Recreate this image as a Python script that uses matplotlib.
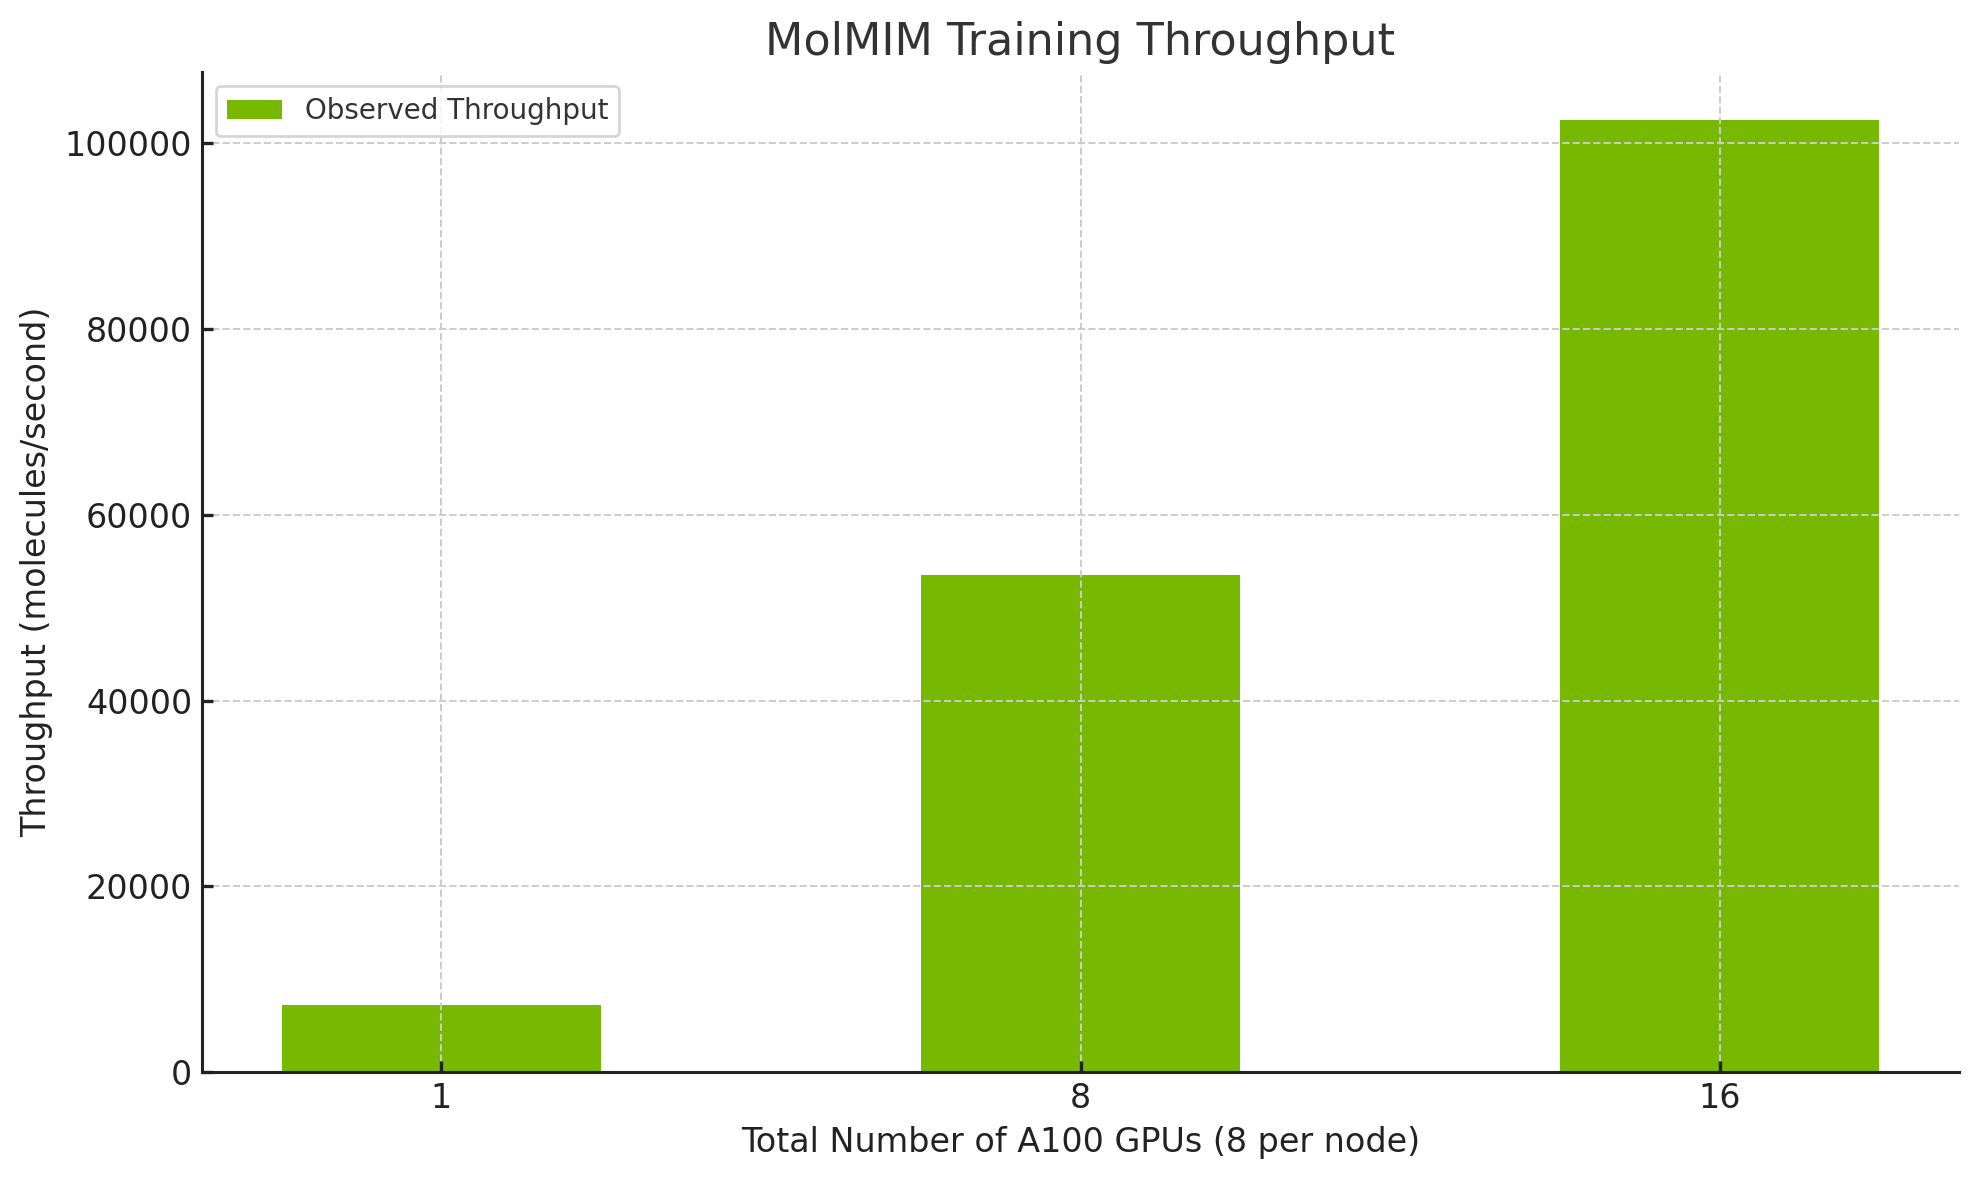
import matplotlib
matplotlib.use("Agg")
import matplotlib.pyplot as plt

gpus = ["1", "8", "16"]
throughput = [7200, 53530, 102550]

plt.rcParams['font.family'] = ['DejaVu Sans']
plt.rcParams['text.color'] = '#333333'
plt.rcParams['axes.labelcolor'] = '#222222'
plt.rcParams['xtick.color'] = '#222222'
plt.rcParams['ytick.color'] = '#222222'

fig, ax = plt.subplots(figsize=(9.895, 5.9), dpi=200)
fig.subplots_adjust(left=0.102, right=0.990, top=0.939, bottom=0.0915)

ax.bar(gpus, throughput, width=0.5, color='#76B900', label='Observed Throughput')

ax.set_title("MolMIM Training Throughput", fontsize=16, color='#333333')
ax.set_xlabel("Total Number of A100 GPUs (8 per node)", fontsize=12)
ax.set_ylabel("Throughput (molecules/second)", fontsize=12)
ax.tick_params(axis='both', direction='in', labelsize=12, width=1.2, length=4)

ax.grid(True, linestyle='--', color='#cccccc', linewidth=0.7)
for side in ['top', 'right']:
    ax.spines[side].set_visible(False)
for side in ['left', 'bottom']:
    ax.spines[side].set_linewidth(1.1)
    ax.spines[side].set_color('#222222')

leg = ax.legend(loc='upper left', fontsize=10)
for t in leg.get_texts():
    t.set_color('#333333')

fig.savefig("out.png", dpi=200)
